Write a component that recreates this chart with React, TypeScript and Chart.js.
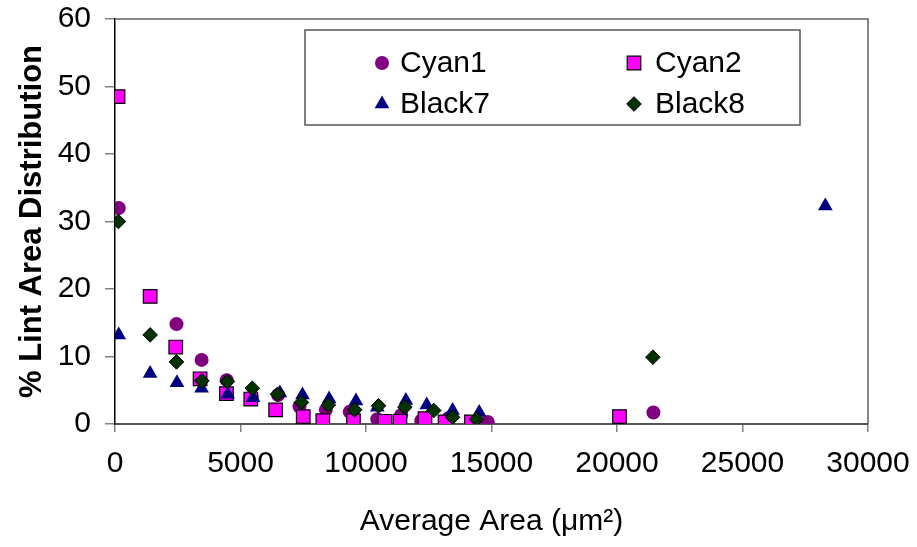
import React, { useEffect, useRef } from "react";
import { Chart, registerables } from "chart.js";

Chart.register(...registerables);

// ---- data ----
const seriesNames = ["Cyan1", "Cyan2", "Black7", "Black8"];

const cyan1X = [150, 2450, 3450, 4450, 5450, 6500, 7350, 8400, 9350, 10450, 11400, 12200, 13300, 14850, 21450];
const cyan1Y = [32.0, 14.8, 9.5, 6.5, 4.0, 4.3, 2.6, 2.1, 1.8, 0.7, 1.3, 0.5, 0.9, 0.3, 1.7];

const cyan2X = [120, 1400, 2420, 3390, 4440, 5410, 6400, 7500, 8280, 9500, 10750, 11350, 12350, 13150, 14200, 20100];
const cyan2Y = [48.5, 18.9, 11.4, 6.7, 4.5, 3.7, 2.1, 1.1, 0.5, 0.5, 0.4, 0.4, 0.8, 0.3, 0.3, 1.1];

const black7X = [150, 1400, 2470, 3450, 4490, 5500, 6570, 7470, 8530, 9600, 10450, 11590, 12420, 13450, 14510, 28300];
const black7Y = [13.2, 7.5, 6.1, 5.3, 4.4, 3.9, 4.6, 4.3, 3.7, 3.4, 2.5, 3.5, 2.8, 2.0, 1.7, 32.3];

const black8X = [135, 1400, 2450, 3460, 4480, 5470, 6475, 7430, 8500, 9550, 10500, 11550, 12700, 13450, 14400, 21430];
const black8Y = [30.0, 13.2, 9.2, 6.4, 6.3, 5.3, 4.4, 3.2, 2.8, 2.1, 2.7, 2.5, 2.0, 1.0, 0.7, 9.9];

const xMin = 0;
const xMax = 30000;
const xStep = 5000;
const yMin = 0;
const yMax = 60;
const yStep = 10;

const xTitle = "Average Area (μm²)";
const yTitle = "% Lint Area Distribution";

// ---- styles ----
const FONT = "'Liberation Sans', Arial, sans-serif";
const styles = [
  { pointStyle: "circle", color: "#800080", border: "#800080", borderWidth: 0, radius: 7 },
  { pointStyle: "rect", color: "#FF00FF", border: "#000000", borderWidth: 1.2, radius: 9.6 },
  { pointStyle: "triangle", color: "#000080", border: "#000080", borderWidth: 0, radius: 8.5 },
  { pointStyle: "rectRot", color: "#003300", border: "#000000", borderWidth: 1, radius: 7.3 },
];

function drawMarker(ctx: CanvasRenderingContext2D, style: string, x: number, y: number, r: number) {
  ctx.beginPath();
  if (style === "circle") {
    ctx.arc(x, y, r, 0, Math.PI * 2);
  } else if (style === "rect") {
    const s = r * Math.SQRT1_2;
    ctx.rect(x - s, y - s, 2 * s, 2 * s);
  } else if (style === "triangle") {
    let a = 0;
    ctx.moveTo(x + Math.sin(a) * r, y - Math.cos(a) * r);
    a += (2 * Math.PI) / 3;
    ctx.lineTo(x + Math.sin(a) * r, y - Math.cos(a) * r);
    a += (2 * Math.PI) / 3;
    ctx.lineTo(x + Math.sin(a) * r, y - Math.cos(a) * r);
  } else {
    ctx.moveTo(x, y - r);
    ctx.lineTo(x + r, y);
    ctx.lineTo(x, y + r);
    ctx.lineTo(x - r, y);
  }
  ctx.closePath();
}

export default function App() {
  const ref = useRef<HTMLCanvasElement>(null);

  useEffect(() => {
    if (!ref.current) return;
    const toPts = (xs: number[], ys: number[]) => xs.map((x, i) => ({ x, y: ys[i] }));
    const allX = [cyan1X, cyan2X, black7X, black8X];
    const allY = [cyan1Y, cyan2Y, black7Y, black8Y];

    const framePlugin = {
      id: "frame",
      beforeDatasetsDraw(chart: any) {
        const { ctx, chartArea } = chart;
        const { left, top, right, bottom } = chartArea;
        ctx.save();
        ctx.strokeStyle = "#606060";
        ctx.lineWidth = 1.5;
        ctx.beginPath();
        ctx.moveTo(left, top);
        ctx.lineTo(right, top);
        ctx.lineTo(right, bottom);
        ctx.stroke();
        ctx.restore();
      },
    };

    const legendPlugin = {
      id: "boxLegend",
      afterDatasetsDraw(chart: any) {
        const ctx: CanvasRenderingContext2D = chart.ctx;
        const bx = 305, by = 30, bw = 495, bh = 95;
        ctx.save();
        ctx.fillStyle = "#ffffff";
        ctx.fillRect(bx, by, bw, bh);
        ctx.strokeStyle = "#555555";
        ctx.lineWidth = 1.5;
        ctx.strokeRect(bx, by, bw, bh);
        const markerCols = [382, 634];
        const textCols = [400, 655];
        const rows = [63, 104];
        ctx.font = `30px ${FONT}`;
        ctx.textBaseline = "middle";
        ctx.textAlign = "left";
        seriesNames.forEach((name, i) => {
          const st = styles[i];
          const mx = markerCols[i % 2];
          const my = rows[Math.floor(i / 2)];
          drawMarker(ctx, st.pointStyle, mx, my, st.radius);
          ctx.fillStyle = st.color;
          ctx.fill();
          if (st.borderWidth > 0) {
            ctx.strokeStyle = st.border;
            ctx.lineWidth = st.borderWidth;
            ctx.stroke();
          }
          ctx.fillStyle = "#000000";
          ctx.fillText(name, textCols[i % 2], my + 1);
        });
        ctx.restore();
      },
    };

    const chart = new Chart(ref.current, {
      type: "scatter",
      data: {
        datasets: seriesNames.map((name, i) => ({
          label: name,
          data: toPts(allX[i], allY[i]),
          pointStyle: styles[i].pointStyle as any,
          pointRadius: styles[i].radius,
          pointBackgroundColor: styles[i].color,
          pointBorderColor: styles[i].border,
          pointBorderWidth: styles[i].borderWidth,
          backgroundColor: styles[i].color,
          borderColor: styles[i].border,
          order: 4 - i,
          showLine: false,
        })),
      },
      plugins: [framePlugin, legendPlugin],
      options: {
        animation: false,
        responsive: false,
        devicePixelRatio: 1,
        layout: { padding: { top: 19, right: 49, left: 0, bottom: 0 } },
        plugins: {
          legend: { display: false },
          tooltip: { enabled: false },
          title: { display: false },
        },
        scales: {
          x: {
            type: "linear",
            min: xMin,
            max: xMax,
            afterFit: (s: any) => {
              s.height = 123;
              s.paddingLeft = 0;
              s.paddingRight = 0;
            },
            ticks: {
              stepSize: xStep,
              color: "#000",
              font: { family: FONT, size: 30 },
              padding: 14,
              maxRotation: 0,
              includeBounds: true,
              callback: (v: any) => String(v),
            },
            grid: { drawOnChartArea: false, drawTicks: true, tickLength: 8, color: "#808080", lineWidth: 1.5 },
            border: { display: true, color: "#555555", width: 2 },
            title: {
              display: true,
              text: xTitle,
              color: "#000",
              font: { family: FONT, size: 30 },
              padding: { top: 0, bottom: 7 },
            },
          },
          y: {
            type: "linear",
            min: yMin,
            max: yMax,
            afterFit: (s: any) => {
              s.width = 115;
              s.paddingTop = 0;
              s.paddingBottom = 0;
            },
            ticks: {
              stepSize: yStep,
              color: "#000",
              font: { family: FONT, size: 30 },
              padding: 14,
            },
            grid: { drawOnChartArea: false, drawTicks: true, tickLength: 10, color: "#808080", lineWidth: 1.5 },
            border: { display: true, color: "#000000", width: 1.5 },
            title: {
              display: true,
              text: yTitle,
              color: "#000",
              font: { family: FONT, size: 31, weight: "bold" },
              padding: { top: 14, bottom: 0 },
            },
          },
        },
      },
    });
    return () => chart.destroy();
  }, []);

  return (
    <div style={{ position: "absolute", left: 0, top: 0, width: 917, height: 547, background: "#fff" }}>
      <canvas ref={ref} width={917} height={547} style={{ display: "block" }} />
    </div>
  );
}
